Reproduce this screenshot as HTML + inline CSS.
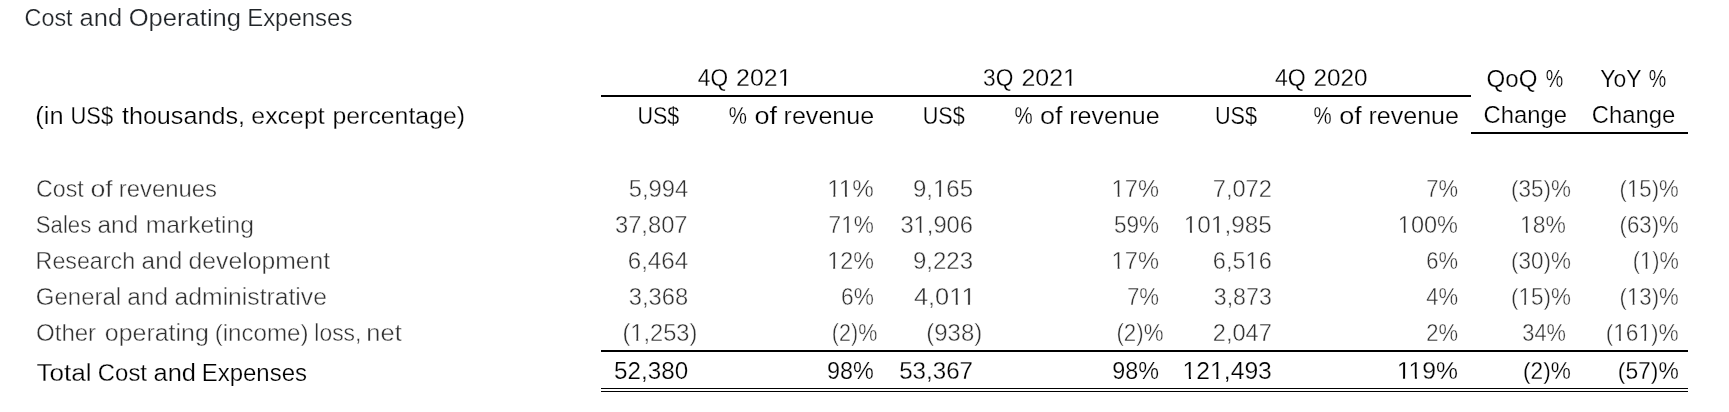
<!DOCTYPE html>
<html><head><meta charset="utf-8"><title>Cost and Operating Expenses</title>
<style>
html,body{margin:0;padding:0;background:#fff;width:1729px;height:412px;overflow:hidden;}
svg{display:block;font-family:"Liberation Sans",sans-serif;will-change:transform;}
</style></head><body>
<svg width="1729" height="412" viewBox="0 0 1729 412">
<rect width="1729" height="412" fill="#fff"/>
<rect x="601" y="95" width="870" height="2" fill="#000"/><rect x="1471" y="132" width="217" height="2" fill="#000"/><rect x="601" y="350" width="1087" height="2" fill="#000"/><rect x="601" y="388" width="1087" height="1" fill="#000"/><rect x="601" y="391" width="1087" height="1" fill="#000"/>
<g transform="translate(24.55 26.00) scale(0.9458 1)"><text fill="#212529" stroke="#fff" stroke-width="0.25" font-size="24.7">Cost</text></g>
<g transform="translate(79.57 26.00) scale(1.0314 1)"><text fill="#212529" stroke="#fff" stroke-width="0.25" font-size="24.7">and</text></g>
<g transform="translate(128.66 26.00) scale(1.0367 1)"><text fill="#212529" stroke="#fff" stroke-width="0.25" font-size="24.7">Operating</text></g>
<g transform="translate(247.16 26.00) scale(0.9701 1)"><text fill="#212529" stroke="#fff" stroke-width="0.25" font-size="24.7">Expenses</text></g>
<g transform="translate(697.80 86.00) scale(0.9196 1)"><text fill="#000" stroke="#fff" stroke-width="0.25" font-size="24.7">4Q</text></g>
<g transform="translate(736.09 86.00) scale(1.0086 1)"><text fill="#000" stroke="#fff" stroke-width="0.25" font-size="24.7">2021</text><rect x="42.07" y="-2.45" width="5.33" height="3.05" fill="#fff"/><rect x="49.58" y="-2.45" width="5.04" height="3.05" fill="#fff"/></g>
<g transform="translate(983.10 86.00) scale(0.9196 1)"><text fill="#000" stroke="#fff" stroke-width="0.25" font-size="24.7">3Q</text></g>
<g transform="translate(1021.39 86.00) scale(1.0106 1)"><text fill="#000" stroke="#fff" stroke-width="0.25" font-size="24.7">2021</text><rect x="42.07" y="-2.45" width="5.33" height="3.05" fill="#fff"/><rect x="49.58" y="-2.45" width="5.04" height="3.05" fill="#fff"/></g>
<g transform="translate(1275.00 86.00) scale(0.9349 1)"><text fill="#000" stroke="#fff" stroke-width="0.25" font-size="24.7">4Q</text></g>
<g transform="translate(1313.41 86.00) scale(0.9851 1)"><text fill="#000" stroke="#fff" stroke-width="0.25" font-size="24.7">2020</text></g>
<g transform="translate(1486.62 86.70) scale(0.9758 1)"><text fill="#000" stroke="#fff" stroke-width="0.25" font-size="24.7">QoQ</text></g>
<g transform="translate(1545.80 86.70) scale(0.7955 1)"><text fill="#000" stroke="#fff" stroke-width="0.25" font-size="24.7">%</text></g>
<g transform="translate(1600.20 86.90) scale(0.9288 1)"><text fill="#000" stroke="#fff" stroke-width="0.25" font-size="24.7">YoY</text></g>
<g transform="translate(1648.70 86.90) scale(0.7955 1)"><text fill="#000" stroke="#fff" stroke-width="0.25" font-size="24.7">%</text></g>
<g transform="translate(35.37 123.70) scale(1.0270 1)"><text fill="#000" stroke="#fff" stroke-width="0.25" font-size="24.7">(in</text></g>
<g transform="translate(70.51 123.70) scale(0.8859 1)"><text fill="#000" stroke="#fff" stroke-width="0.25" font-size="24.7">US$</text></g>
<g transform="translate(121.90 123.70) scale(1.0191 1)"><text fill="#000" stroke="#fff" stroke-width="0.25" font-size="24.7">thousands,</text></g>
<g transform="translate(251.29 123.70) scale(1.0087 1)"><text fill="#000" stroke="#fff" stroke-width="0.25" font-size="24.7">except</text></g>
<g transform="translate(332.49 123.70) scale(1.0059 1)"><text fill="#000" stroke="#fff" stroke-width="0.25" font-size="24.7">percentage)</text></g>
<g transform="translate(637.43 123.70) scale(0.8711 1)"><text fill="#000" stroke="#fff" stroke-width="0.25" font-size="24.7">US$</text></g>
<g transform="translate(922.73 123.70) scale(0.8732 1)"><text fill="#000" stroke="#fff" stroke-width="0.25" font-size="24.7">US$</text></g>
<g transform="translate(1214.92 123.70) scale(0.8775 1)"><text fill="#000" stroke="#fff" stroke-width="0.25" font-size="24.7">US$</text></g>
<g transform="translate(728.80 123.70) scale(0.8273 1)"><text fill="#000" stroke="#fff" stroke-width="0.25" font-size="24.7">%</text></g>
<g transform="translate(754.40 123.70) scale(1.0998 1)"><text fill="#000" stroke="#fff" stroke-width="0.25" font-size="24.7">of</text></g>
<g transform="translate(783.58 123.70) scale(1.0150 1)"><text fill="#000" stroke="#fff" stroke-width="0.25" font-size="24.7">revenue</text></g>
<g transform="translate(1014.40 123.70) scale(0.8273 1)"><text fill="#000" stroke="#fff" stroke-width="0.25" font-size="24.7">%</text></g>
<g transform="translate(1040.00 123.70) scale(1.0998 1)"><text fill="#000" stroke="#fff" stroke-width="0.25" font-size="24.7">of</text></g>
<g transform="translate(1069.18 123.70) scale(1.0150 1)"><text fill="#000" stroke="#fff" stroke-width="0.25" font-size="24.7">revenue</text></g>
<g transform="translate(1313.60 123.70) scale(0.8273 1)"><text fill="#000" stroke="#fff" stroke-width="0.25" font-size="24.7">%</text></g>
<g transform="translate(1339.20 123.70) scale(1.0998 1)"><text fill="#000" stroke="#fff" stroke-width="0.25" font-size="24.7">of</text></g>
<g transform="translate(1368.38 123.70) scale(1.0150 1)"><text fill="#000" stroke="#fff" stroke-width="0.25" font-size="24.7">revenue</text></g>
<g transform="translate(1483.43 122.80) scale(0.9664 1)"><text fill="#000" stroke="#fff" stroke-width="0.25" font-size="24.7">Change</text></g>
<g transform="translate(1591.83 122.80) scale(0.9664 1)"><text fill="#000" stroke="#fff" stroke-width="0.25" font-size="24.7">Change</text></g>
<g transform="translate(36.06 196.70) scale(0.9398 1)"><text fill="#303030" stroke="#fff" stroke-width="0.42" font-size="24.7">Cost</text></g>
<g transform="translate(90.42 196.70) scale(1.0846 1)"><text fill="#303030" stroke="#fff" stroke-width="0.42" font-size="24.7">of</text></g>
<g transform="translate(118.73 196.70) scale(0.9669 1)"><text fill="#303030" stroke="#fff" stroke-width="0.42" font-size="24.7">revenues</text></g>
<g transform="translate(35.80 232.90) scale(0.8972 1)"><text fill="#303030" stroke="#fff" stroke-width="0.42" font-size="24.7">Sales</text></g>
<g transform="translate(97.51 232.90) scale(0.9883 1)"><text fill="#303030" stroke="#fff" stroke-width="0.42" font-size="24.7">and</text></g>
<g transform="translate(145.80 232.90) scale(0.9975 1)"><text fill="#303030" stroke="#fff" stroke-width="0.42" font-size="24.7">marketing</text></g>
<g transform="translate(35.62 268.90) scale(0.9414 1)"><text fill="#303030" stroke="#fff" stroke-width="0.42" font-size="24.7">Research</text></g>
<g transform="translate(141.61 268.90) scale(0.9858 1)"><text fill="#303030" stroke="#fff" stroke-width="0.42" font-size="24.7">and</text></g>
<g transform="translate(188.60 268.90) scale(1.0014 1)"><text fill="#303030" stroke="#fff" stroke-width="0.42" font-size="24.7">development</text></g>
<g transform="translate(35.83 304.90) scale(0.9714 1)"><text fill="#303030" stroke="#fff" stroke-width="0.42" font-size="24.7">General</text></g>
<g transform="translate(127.31 304.90) scale(0.9858 1)"><text fill="#303030" stroke="#fff" stroke-width="0.42" font-size="24.7">and</text></g>
<g transform="translate(174.60 304.90) scale(1.0002 1)"><text fill="#303030" stroke="#fff" stroke-width="0.42" font-size="24.7">administrative</text></g>
<g transform="translate(36.03 341.00) scale(0.9732 1)"><text fill="#303030" stroke="#fff" stroke-width="0.42" font-size="24.7">Other</text></g>
<g transform="translate(104.79 341.00) scale(1.0097 1)"><text fill="#303030" stroke="#fff" stroke-width="0.42" font-size="24.7">operating</text></g>
<g transform="translate(214.72 341.00) scale(0.9776 1)"><text fill="#303030" stroke="#fff" stroke-width="0.42" font-size="24.7">(income)</text></g>
<g transform="translate(314.37 341.00) scale(0.9269 1)"><text fill="#303030" stroke="#fff" stroke-width="0.42" font-size="24.7">loss,</text></g>
<g transform="translate(366.37 341.00) scale(1.0311 1)"><text fill="#303030" stroke="#fff" stroke-width="0.42" font-size="24.7">net</text></g>
<g transform="translate(36.40 380.80) scale(1.0580 1)"><text fill="#000" stroke="#fff" stroke-width="0.25" font-size="24.7">Total</text></g>
<g transform="translate(97.83 380.80) scale(0.9679 1)"><text fill="#000" stroke="#fff" stroke-width="0.25" font-size="24.7">Cost</text></g>
<g transform="translate(153.47 380.80) scale(1.0314 1)"><text fill="#000" stroke="#fff" stroke-width="0.25" font-size="24.7">and</text></g>
<g transform="translate(201.66 380.80) scale(0.9720 1)"><text fill="#000" stroke="#fff" stroke-width="0.25" font-size="24.7">Expenses</text></g>
<g transform="translate(628.70 196.70) scale(0.9615 1)"><text fill="#303030" stroke="#fff" stroke-width="0.42" font-size="24.7">5,994</text></g>
<g transform="translate(827.17 196.70) scale(0.9812 1)"><text fill="#303030" stroke="#fff" stroke-width="0.42" font-size="24.7">11%</text><rect x="0.88" y="-2.45" width="5.33" height="3.05" fill="#fff"/><rect x="8.39" y="-2.45" width="5.04" height="3.05" fill="#fff"/><rect x="12.78" y="-2.45" width="5.33" height="3.05" fill="#fff"/><rect x="20.29" y="-2.45" width="5.04" height="3.05" fill="#fff"/></g>
<g transform="translate(912.93 196.70) scale(0.9725 1)"><text fill="#303030" stroke="#fff" stroke-width="0.42" font-size="24.7">9,165</text><rect x="21.47" y="-2.45" width="5.33" height="3.05" fill="#fff"/><rect x="28.98" y="-2.45" width="5.04" height="3.05" fill="#fff"/></g>
<g transform="translate(1111.62 196.70) scale(0.9579 1)"><text fill="#303030" stroke="#fff" stroke-width="0.42" font-size="24.7">17%</text><rect x="0.88" y="-2.45" width="5.33" height="3.05" fill="#fff"/><rect x="8.39" y="-2.45" width="5.04" height="3.05" fill="#fff"/></g>
<g transform="translate(1212.85 196.70) scale(0.9542 1)"><text fill="#303030" stroke="#fff" stroke-width="0.42" font-size="24.7">7,072</text></g>
<g transform="translate(1426.31 196.70) scale(0.8897 1)"><text fill="#303030" stroke="#fff" stroke-width="0.42" font-size="24.7">7%</text></g>
<g transform="translate(1510.99 196.70) scale(0.9091 1)"><text fill="#303030" stroke="#fff" stroke-width="0.42" font-size="24.7">(35)%</text></g>
<g transform="translate(1619.60 196.70) scale(0.8983 1)"><text fill="#303030" stroke="#fff" stroke-width="0.42" font-size="24.7">(15)%</text><rect x="9.10" y="-2.45" width="5.33" height="3.05" fill="#fff"/><rect x="16.62" y="-2.45" width="5.04" height="3.05" fill="#fff"/></g>
<g transform="translate(615.00 232.90) scale(0.9602 1)"><text fill="#303030" stroke="#fff" stroke-width="0.42" font-size="24.7">37,807</text></g>
<g transform="translate(828.58 232.90) scale(0.9162 1)"><text fill="#303030" stroke="#fff" stroke-width="0.42" font-size="24.7">71%</text><rect x="14.61" y="-2.45" width="5.33" height="3.05" fill="#fff"/><rect x="22.12" y="-2.45" width="5.04" height="3.05" fill="#fff"/></g>
<g transform="translate(900.40 232.90) scale(0.9615 1)"><text fill="#303030" stroke="#fff" stroke-width="0.42" font-size="24.7">31,906</text><rect x="14.61" y="-2.45" width="5.33" height="3.05" fill="#fff"/><rect x="22.12" y="-2.45" width="5.04" height="3.05" fill="#fff"/></g>
<g transform="translate(1113.90 232.90) scale(0.9118 1)"><text fill="#303030" stroke="#fff" stroke-width="0.42" font-size="24.7">59%</text></g>
<g transform="translate(1183.76 232.90) scale(0.9868 1)"><text fill="#303030" stroke="#fff" stroke-width="0.42" font-size="24.7">101,985</text><rect x="0.88" y="-2.45" width="5.33" height="3.05" fill="#fff"/><rect x="8.39" y="-2.45" width="5.04" height="3.05" fill="#fff"/><rect x="28.34" y="-2.45" width="5.33" height="3.05" fill="#fff"/><rect x="35.85" y="-2.45" width="5.04" height="3.05" fill="#fff"/></g>
<g transform="translate(1397.83 232.90) scale(0.9537 1)"><text fill="#303030" stroke="#fff" stroke-width="0.42" font-size="24.7">100%</text><rect x="0.88" y="-2.45" width="5.33" height="3.05" fill="#fff"/><rect x="8.39" y="-2.45" width="5.04" height="3.05" fill="#fff"/></g>
<g transform="translate(1520.09 232.90) scale(0.9281 1)"><text fill="#303030" stroke="#fff" stroke-width="0.42" font-size="24.7">18%</text><rect x="0.88" y="-2.45" width="5.33" height="3.05" fill="#fff"/><rect x="8.39" y="-2.45" width="5.04" height="3.05" fill="#fff"/></g>
<g transform="translate(1619.60 232.90) scale(0.8983 1)"><text fill="#303030" stroke="#fff" stroke-width="0.42" font-size="24.7">(63)%</text></g>
<g transform="translate(627.72 268.90) scale(0.9775 1)"><text fill="#303030" stroke="#fff" stroke-width="0.42" font-size="24.7">6,464</text></g>
<g transform="translate(827.26 268.90) scale(0.9430 1)"><text fill="#303030" stroke="#fff" stroke-width="0.42" font-size="24.7">12%</text><rect x="0.88" y="-2.45" width="5.33" height="3.05" fill="#fff"/><rect x="8.39" y="-2.45" width="5.04" height="3.05" fill="#fff"/></g>
<g transform="translate(912.93 268.90) scale(0.9725 1)"><text fill="#303030" stroke="#fff" stroke-width="0.42" font-size="24.7">9,223</text></g>
<g transform="translate(1111.62 268.90) scale(0.9579 1)"><text fill="#303030" stroke="#fff" stroke-width="0.42" font-size="24.7">17%</text><rect x="0.88" y="-2.45" width="5.33" height="3.05" fill="#fff"/><rect x="8.39" y="-2.45" width="5.04" height="3.05" fill="#fff"/></g>
<g transform="translate(1212.85 268.90) scale(0.9542 1)"><text fill="#303030" stroke="#fff" stroke-width="0.42" font-size="24.7">6,516</text><rect x="35.20" y="-2.45" width="5.33" height="3.05" fill="#fff"/><rect x="42.71" y="-2.45" width="5.04" height="3.05" fill="#fff"/></g>
<g transform="translate(1426.31 268.90) scale(0.8897 1)"><text fill="#303030" stroke="#fff" stroke-width="0.42" font-size="24.7">6%</text></g>
<g transform="translate(1510.99 268.90) scale(0.9091 1)"><text fill="#303030" stroke="#fff" stroke-width="0.42" font-size="24.7">(30)%</text></g>
<g transform="translate(1632.82 268.90) scale(0.8813 1)"><text fill="#303030" stroke="#fff" stroke-width="0.42" font-size="24.7">(1)%</text><rect x="9.10" y="-2.45" width="5.33" height="3.05" fill="#fff"/><rect x="16.62" y="-2.45" width="5.04" height="3.05" fill="#fff"/></g>
<g transform="translate(628.70 304.90) scale(0.9615 1)"><text fill="#303030" stroke="#fff" stroke-width="0.42" font-size="24.7">3,368</text></g>
<g transform="translate(841.08 304.90) scale(0.9185 1)"><text fill="#303030" stroke="#fff" stroke-width="0.42" font-size="24.7">6%</text></g>
<g transform="translate(913.90 304.90) scale(1.0291 1)"><text fill="#303030" stroke="#fff" stroke-width="0.42" font-size="24.7">4,011</text><rect x="35.20" y="-2.45" width="5.33" height="3.05" fill="#fff"/><rect x="42.71" y="-2.45" width="5.04" height="3.05" fill="#fff"/><rect x="47.10" y="-2.45" width="5.33" height="3.05" fill="#fff"/><rect x="54.61" y="-2.45" width="5.04" height="3.05" fill="#fff"/></g>
<g transform="translate(1126.90 304.90) scale(0.8984 1)"><text fill="#303030" stroke="#fff" stroke-width="0.42" font-size="24.7">7%</text></g>
<g transform="translate(1213.80 304.90) scale(0.9386 1)"><text fill="#303030" stroke="#fff" stroke-width="0.42" font-size="24.7">3,873</text></g>
<g transform="translate(1426.20 304.90) scale(0.8928 1)"><text fill="#303030" stroke="#fff" stroke-width="0.42" font-size="24.7">4%</text></g>
<g transform="translate(1510.99 304.90) scale(0.9091 1)"><text fill="#303030" stroke="#fff" stroke-width="0.42" font-size="24.7">(15)%</text><rect x="9.10" y="-2.45" width="5.33" height="3.05" fill="#fff"/><rect x="16.62" y="-2.45" width="5.04" height="3.05" fill="#fff"/></g>
<g transform="translate(1619.60 304.90) scale(0.8983 1)"><text fill="#303030" stroke="#fff" stroke-width="0.42" font-size="24.7">(13)%</text><rect x="9.10" y="-2.45" width="5.33" height="3.05" fill="#fff"/><rect x="16.62" y="-2.45" width="5.04" height="3.05" fill="#fff"/></g>
<g transform="translate(622.44 341.00) scale(0.9579 1)"><text fill="#303030" stroke="#fff" stroke-width="0.42" font-size="24.7">(1,253)</text><rect x="9.10" y="-2.45" width="5.33" height="3.05" fill="#fff"/><rect x="16.62" y="-2.45" width="5.04" height="3.05" fill="#fff"/></g>
<g transform="translate(831.83 341.00) scale(0.8716 1)"><text fill="#303030" stroke="#fff" stroke-width="0.42" font-size="24.7">(2)%</text></g>
<g transform="translate(926.33 341.00) scale(0.9691 1)"><text fill="#303030" stroke="#fff" stroke-width="0.42" font-size="24.7">(938)</text></g>
<g transform="translate(1116.40 341.00) scale(0.9028 1)"><text fill="#303030" stroke="#fff" stroke-width="0.42" font-size="24.7">(2)%</text></g>
<g transform="translate(1212.85 341.00) scale(0.9542 1)"><text fill="#303030" stroke="#fff" stroke-width="0.42" font-size="24.7">2,047</text></g>
<g transform="translate(1426.31 341.00) scale(0.8897 1)"><text fill="#303030" stroke="#fff" stroke-width="0.42" font-size="24.7">2%</text></g>
<g transform="translate(1522.30 341.00) scale(0.8835 1)"><text fill="#303030" stroke="#fff" stroke-width="0.42" font-size="24.7">34%</text></g>
<g transform="translate(1605.68 341.00) scale(0.9182 1)"><text fill="#303030" stroke="#fff" stroke-width="0.42" font-size="24.7">(161)%</text><rect x="9.10" y="-2.45" width="5.33" height="3.05" fill="#fff"/><rect x="16.62" y="-2.45" width="5.04" height="3.05" fill="#fff"/><rect x="36.56" y="-2.45" width="5.33" height="3.05" fill="#fff"/><rect x="44.08" y="-2.45" width="5.04" height="3.05" fill="#fff"/></g>
<g transform="translate(614.00 379.00) scale(0.9816 1)"><text fill="#000" stroke="#fff" stroke-width="0.25" font-size="24.7">52,380</text></g>
<g transform="translate(827.05 379.00) scale(0.9472 1)"><text fill="#000" stroke="#fff" stroke-width="0.25" font-size="24.7">98%</text></g>
<g transform="translate(899.20 379.00) scale(0.9775 1)"><text fill="#000" stroke="#fff" stroke-width="0.25" font-size="24.7">53,367</text></g>
<g transform="translate(1112.25 379.00) scale(0.9451 1)"><text fill="#000" stroke="#fff" stroke-width="0.25" font-size="24.7">98%</text></g>
<g transform="translate(1182.62 379.00) scale(0.9996 1)"><text fill="#000" stroke="#fff" stroke-width="0.25" font-size="24.7">121,493</text><rect x="0.88" y="-2.45" width="5.33" height="3.05" fill="#fff"/><rect x="8.39" y="-2.45" width="5.04" height="3.05" fill="#fff"/><rect x="28.34" y="-2.45" width="5.33" height="3.05" fill="#fff"/><rect x="35.85" y="-2.45" width="5.04" height="3.05" fill="#fff"/></g>
<g transform="translate(1396.72 379.00) scale(1.0003 1)"><text fill="#000" stroke="#fff" stroke-width="0.25" font-size="24.7">119%</text><rect x="0.88" y="-2.45" width="5.33" height="3.05" fill="#fff"/><rect x="8.39" y="-2.45" width="5.04" height="3.05" fill="#fff"/><rect x="12.78" y="-2.45" width="5.33" height="3.05" fill="#fff"/><rect x="20.29" y="-2.45" width="5.04" height="3.05" fill="#fff"/></g>
<g transform="translate(1523.08 379.00) scale(0.9165 1)"><text fill="#000" stroke="#fff" stroke-width="0.25" font-size="24.7">(2)%</text></g>
<g transform="translate(1617.77 379.00) scale(0.9260 1)"><text fill="#000" stroke="#fff" stroke-width="0.25" font-size="24.7">(57)%</text></g>
</svg>
</body></html>
